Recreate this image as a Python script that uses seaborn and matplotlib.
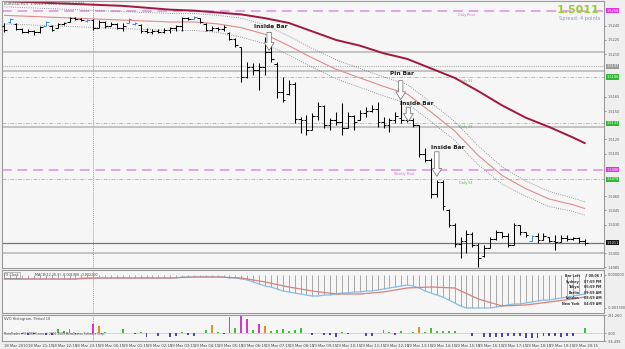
import matplotlib
matplotlib.use("Agg")
import matplotlib.pyplot as plt
import matplotlib.transforms as mtransforms
import numpy as np
import seaborn as sns

# ------------------------- DATI -------------------------
# EURUSD M15, bars from 18 Mar 20:15 to 19 Mar 20:45
bar_open = [
    1.5240, 1.5244, 1.5242, 1.5237, 1.5233, 1.5235, 1.5233, 1.5240, 1.5240, 1.5238,
    1.5242, 1.5244, 1.5248, 1.5247, 1.5245, 1.5246, 1.5238, 1.5244, 1.5240, 1.5242,
    1.5238, 1.5243, 1.5242, 1.5241, 1.5234, 1.5233, 1.5235, 1.5233, 1.5236, 1.5238,
    1.5240, 1.5248, 1.5247, 1.5248, 1.5242, 1.5236, 1.5238, 1.5237, 1.5232, 1.5226,
    1.5218, 1.5186, 1.5196, 1.5193, 1.5196, 1.5212, 1.5200, 1.5170, 1.5168, 1.5178,
    1.5142, 1.5140, 1.5130, 1.5145, 1.5155, 1.5135, 1.5140, 1.5138, 1.5132, 1.5145,
    1.5140, 1.5148, 1.5150, 1.5152, 1.5138, 1.5135, 1.5140, 1.5143, 1.5141, 1.5140,
    1.5135, 1.5105, 1.5098, 1.5062, 1.5075, 1.5045, 1.5030, 1.5010, 1.5013, 1.5020,
    1.5008, 1.4997, 1.5005, 1.5015, 1.5022, 1.5018, 1.5008, 1.5030, 1.5022, 1.5013,
    1.5018, 1.5014, 1.5017, 1.5013, 1.5012, 1.5016, 1.5015, 1.5016, 1.5013]
bar_high = [
    1.5243, 1.5248, 1.5243, 1.5238, 1.5237, 1.5236, 1.5240, 1.5245, 1.5241, 1.5243,
    1.5244, 1.5249, 1.5249, 1.5248, 1.5247, 1.5247, 1.5246, 1.5245, 1.5244, 1.5243,
    1.5243, 1.5248, 1.5244, 1.5242, 1.5238, 1.5237, 1.5237, 1.5238, 1.5239, 1.5241,
    1.5249, 1.5249, 1.5250, 1.5248, 1.5243, 1.5240, 1.5239, 1.5241, 1.5233, 1.5227,
    1.5218, 1.5202, 1.5201, 1.5201, 1.5228, 1.5220, 1.5202, 1.5186, 1.5183, 1.5181,
    1.5144, 1.5146, 1.5148, 1.5159, 1.5156, 1.5143, 1.5149, 1.5158, 1.5149, 1.5146,
    1.5151, 1.5154, 1.5156, 1.5159, 1.5144, 1.5143, 1.5149, 1.5162, 1.5148, 1.5143,
    1.5135, 1.5111, 1.5100, 1.5077, 1.5077, 1.5047, 1.5032, 1.5017, 1.5024, 1.5022,
    1.5011, 1.5008, 1.5017, 1.5024, 1.5022, 1.5021, 1.5032, 1.5030, 1.5022, 1.5019,
    1.5021, 1.5021, 1.5017, 1.5019, 1.5019, 1.5019, 1.5017, 1.5017, 1.5015]
bar_low = [
    1.5233, 1.5243, 1.5236, 1.5232, 1.5232, 1.5230, 1.5232, 1.5240, 1.5234, 1.5238,
    1.5241, 1.5244, 1.5246, 1.5245, 1.5244, 1.5236, 1.5238, 1.5238, 1.5240, 1.5237,
    1.5235, 1.5243, 1.5241, 1.5232, 1.5232, 1.5231, 1.5232, 1.5232, 1.5232, 1.5235,
    1.5235, 1.5246, 1.5247, 1.5243, 1.5235, 1.5235, 1.5235, 1.5235, 1.5225, 1.5218,
    1.5181, 1.5185, 1.5188, 1.5172, 1.5188, 1.5202, 1.5164, 1.5159, 1.5167, 1.5137,
    1.5127, 1.5125, 1.5130, 1.5140, 1.5132, 1.5130, 1.5135, 1.5125, 1.5132, 1.5130,
    1.5140, 1.5144, 1.5149, 1.5133, 1.5132, 1.5128, 1.5137, 1.5137, 1.5138, 1.5133,
    1.5101, 1.5096, 1.5058, 1.5059, 1.5045, 1.5027, 1.5006, 1.4995, 1.5000, 1.5006,
    1.4985, 1.4996, 1.5005, 1.5014, 1.5016, 1.5006, 1.5008, 1.5019, 1.5017, 1.5013,
    1.5011, 1.5014, 1.5012, 1.5003, 1.5012, 1.5013, 1.5014, 1.5011, 1.5008]
bar_close = [
    1.5236, 1.5247, 1.5237, 1.5233, 1.5235, 1.5233, 1.5239, 1.5244, 1.5236, 1.5242,
    1.5243, 1.5248, 1.5247, 1.5246, 1.5246, 1.5238, 1.5244, 1.5240, 1.5242, 1.5238,
    1.5240, 1.5247, 1.5243, 1.5234, 1.5233, 1.5235, 1.5233, 1.5236, 1.5238, 1.5240,
    1.5248, 1.5247, 1.5249, 1.5244, 1.5236, 1.5238, 1.5237, 1.5239, 1.5226, 1.5220,
    1.5186, 1.5196, 1.5193, 1.5196, 1.5212, 1.5205, 1.5170, 1.5162, 1.5178, 1.5142,
    1.5140, 1.5130, 1.5145, 1.5155, 1.5135, 1.5140, 1.5138, 1.5132, 1.5145, 1.5138,
    1.5148, 1.5150, 1.5152, 1.5138, 1.5135, 1.5140, 1.5145, 1.5141, 1.5140, 1.5135,
    1.5105, 1.5098, 1.5062, 1.5075, 1.5050, 1.5030, 1.5010, 1.5013, 1.5020, 1.5008,
    1.4995, 1.5005, 1.5015, 1.5022, 1.5018, 1.5008, 1.5030, 1.5022, 1.5019, 1.5018,
    1.5014, 1.5018, 1.5013, 1.5012, 1.5016, 1.5015, 1.5016, 1.5013, 1.5011]
blue_bars = [1, 7, 14, 21, 22, 32, 89]

# medie mobili, lette ogni 4 barre (una all'ora)
ma_idx = [0, 4, 8, 12, 16, 20, 24, 28, 32, 36, 40, 44, 48, 52, 56, 60, 64, 68, 72, 76,
          80, 84, 88, 92, 96, 98]
ma_slow = [1.5266, 1.5265, 1.5264, 1.5263, 1.5262, 1.5261, 1.5259, 1.5257, 1.5256, 1.5254,
           1.5252, 1.5248, 1.5243, 1.5234, 1.5225, 1.5219, 1.5211, 1.5205, 1.5195, 1.5185,
           1.5171, 1.5156, 1.5143, 1.5133, 1.5122, 1.5116]
env_mid = [1.5251, 1.5250, 1.5249, 1.5248, 1.5247, 1.5246, 1.5245, 1.5244, 1.5244, 1.5242,
           1.5238, 1.5231, 1.5219, 1.5206, 1.5194, 1.5185, 1.5176, 1.5168, 1.5149, 1.5129,
           1.5103, 1.5082, 1.5068, 1.5057, 1.5051, 1.5047]
env_up = [1.5260, 1.5259, 1.5258, 1.5257, 1.5256, 1.5255, 1.5254, 1.5253, 1.5253, 1.5251,
          1.5248, 1.5241, 1.5229, 1.5216, 1.5204, 1.5195, 1.5186, 1.5178, 1.5159, 1.5139,
          1.5113, 1.5091, 1.5076, 1.5065, 1.5058, 1.5054]
env_low = [1.5242, 1.5241, 1.5240, 1.5239, 1.5238, 1.5237, 1.5236, 1.5235, 1.5235, 1.5233,
           1.5228, 1.5221, 1.5209, 1.5196, 1.5184, 1.5175, 1.5166, 1.5158, 1.5139, 1.5119,
           1.5093, 1.5073, 1.5060, 1.5049, 1.5044, 1.5040]

# livelli orizzontali
pivot_names = ["Daily Pivot", "Weekly Pivot"]
pivot_prices = [1.5256, 1.5088]
support_names = ["Daily S1", "Daily S2", "Daily S3"]
support_prices = [1.5186, 1.5137, 1.5078]
gray_levels = [1.5212, 1.5192, 1.5133, 1.5000]
dotted_level = 1.5197
bid = 1.5011

# pattern segnalati
pattern_names = ["Inside Bar", "Pin Bar", "Inside Bar", "Inside Bar"]
pattern_bar = [44.7, 66.9, 68.2, 73.0]

# MACD (pips) per barra, signal ogni ora
macd_main = [
    -4, -4, -4, -4, -4, -4, -4, -4, -4, -4,
    -4, -4, -4, -3, -3, -3, -3, -3, -3, -3,
    -3, -3, -3, -3, -3, -3, -3, -3, -3, -3,
    -2, -2, -2, -2, -2, -2, -2, -2, -3, -3,
    -4, -5, -7, -9, -11, -12, -14, -16, -17, -18,
    -19, -20, -21, -21, -20, -20, -19, -18, -18, -17,
    -17, -16, -16, -15, -14, -13, -12, -11, -10, -11,
    -13, -16, -18, -20, -22, -25, -28, -31, -33, -33,
    -33, -33, -33, -32, -31, -30, -29, -29, -28, -27,
    -26, -25, -25, -24, -23, -22, -21, -20, -19]
macd_signal = [-4, -4, -4, -4, -3, -3, -3, -3, -2, -2, -3, -7, -12, -16, -19, -19, -17, -13,
               -12, -13, -24, -31, -30, -27, -24, -22]

# VVO histogram
vvo = [
    0, 0, 0, -15, -20, -10, 0, -25, -20, 55,
    25, 55, -15, 0, 0, 115, 88, 18, 0, 0,
    48, 0, -15, 15, -45, 0, -35, 0, -50, -30,
    15, -25, -35, 0, 38, 100, 18, -8, 195, 62,
    214, 178, 37, 112, 85, 30, 37, 48, 26, 37,
    60, 0, -25, 0, -20, -20, -45, 10, -15, 0,
    0, -35, -30, 0, 37, 15, -25, 20, 0, 15,
    80, 15, 60, 28, 25, 25, 25, 0, 0, -35,
    0, -48, -48, -48, -48, -40, -38, -30, -55, -55,
    -55, -30, -40, -40, -48, -40, -30, 0, 65]

time_labels = ["18 Mar 2010", "18 Mar 21:15", "18 Mar 22:15", "18 Mar 23:15",
               "19 Mar 00:15", "19 Mar 01:15", "19 Mar 02:15", "19 Mar 03:15",
               "19 Mar 04:15", "19 Mar 05:15", "19 Mar 06:15", "19 Mar 07:15",
               "19 Mar 08:15", "19 Mar 09:15", "19 Mar 10:15", "19 Mar 11:15",
               "19 Mar 12:15", "19 Mar 13:15", "19 Mar 14:15", "19 Mar 15:15",
               "19 Mar 16:15", "19 Mar 17:15", "19 Mar 18:15", "19 Mar 19:15",
               "19 Mar 20:15"]

clock_names = ["Bar Left", "Sydney", "Tokyo", "Berlin", "London", "New York"]
clock_times = ["[ 00:06 ]", "07:59 PM", "05:59 PM", "09:59 AM", "08:59 AM", "04:59 AM"]

# ------------------------- GRAFICO -------------------------
sns.set_theme(style="white")
plt.rcParams['font.family'] = ['DejaVu Sans']

BG = "#f6f6f6"
EDGE = "#9c9c9c"
idx = np.arange(len(bar_open))

fig = plt.figure(figsize=(6.25, 3.49), dpi=100, facecolor="#efefef")
ax = fig.add_axes([0.0032, 0.232, 0.963, 0.765], facecolor=BG)
ax_macd = fig.add_axes([0.0032, 0.1032, 0.963, 0.1232], facecolor=BG, sharex=ax)
ax_vvo = fig.add_axes([0.0032, 0.0229, 0.963, 0.0745], facecolor=BG, sharex=ax)

for a in (ax, ax_macd, ax_vvo):
    for s in a.spines.values():
        s.set_color(EDGE)
        s.set_linewidth(0.8)
    a.axvline(15, color="#a0a0a0", lw=0.7, ls=(0, (1, 1)), zorder=0)
    a.yaxis.tick_right()
    a.tick_params(axis="y", labelsize=2.5, length=1.5, pad=1, colors="#555555", width=0.4)
    a.tick_params(axis="x", length=0, labelbottom=False)

# livelli
for p in gray_levels:
    ax.axhline(p, color="#b5b5b5", lw=1.1, zorder=1)
ax.axhline(dotted_level, color="#b0b0b0", lw=0.8, ls=(0, (1, 1)), zorder=1)
ax.axhline(bid, color="#777777", lw=0.9, zorder=1)
for p in pivot_prices:
    ax.axhline(p, color="#e2a6e2", lw=1.4, ls=(0, (5, 3)), zorder=1)
for p in support_prices:
    ax.axhline(p, color="#98d498", lw=0.7, ls=(0, (4, 1.5, 1, 1.5)), zorder=1)

ax.text(76.6, pivot_prices[0] - 0.0002, pivot_names[0], fontsize=2.3, color="#d070d0", va="top")
ax.text(65.8, pivot_prices[1] - 0.0002, pivot_names[1], fontsize=2.3, color="#d070d0", va="top")
for name, p in zip(support_names, support_prices):
    ax.text(76.8, p - 0.0002, name, fontsize=2.3, color="#60b060", va="top")

# medie mobili
sns.lineplot(x=ma_idx, y=env_up, ax=ax, color="#777777", lw=0.6, linestyle=":")
sns.lineplot(x=ma_idx, y=env_low, ax=ax, color="#777777", lw=0.6, linestyle=":")
sns.lineplot(x=ma_idx, y=env_mid, ax=ax, color="#e08c8c", lw=0.8)
sns.lineplot(x=ma_idx, y=ma_slow, ax=ax, color="#a3173f", lw=1.4)

# barre OHLC
bar_colors = ["#3f90d8" if i in blue_bars else "black" for i in idx]
ax.vlines(idx, bar_low, bar_high, colors=bar_colors, lw=0.75, zorder=3)
ax.hlines(bar_open, idx - 0.45, idx, colors=bar_colors, lw=0.75, zorder=3)
ax.hlines(bar_close, idx, idx + 0.45, colors=bar_colors, lw=0.75, zorder=3)

# pattern: frecce e etichette
arrow_top = [1.5233, 1.5182, 1.5154, 1.5107]
arrow_tip = [1.5214, 1.5162, 1.5139, 1.5081]
label_pos = [(45.0, 1.5239), (67.2, 1.5190), (69.7, 1.5158), (74.8, 1.5111)]
for name, xb, y0, y1, (lx, ly) in zip(pattern_names, pattern_bar, arrow_top, arrow_tip, label_pos):
    ax.annotate("", xy=(xb, y1), xytext=(xb, y0),
                arrowprops=dict(arrowstyle="simple,head_length=0.8,head_width=1.0,tail_width=0.45",
                                fc="white", ec="#808080", lw=0.6, mutation_scale=7,
                                shrinkA=0, shrinkB=0), zorder=4)
    ax.text(lx, ly, name, fontsize=4.2, fontweight="bold", color="#222222", ha="center", va="center", zorder=5)

ax.set_xlim(-0.4, 101.2)
ax.set_ylim(1.49842, 1.52661)

box_prices = pivot_prices + support_prices + [dotted_level, bid]
price_ticks = [round(1.4985 + 0.0015 * k, 4) for k in range(19)]
price_ticks = [t for t in price_ticks if min(abs(t - b) for b in box_prices) > 0.0008]
ax.set_yticks(price_ticks)
ax.set_yticklabels([f"{t:.4f}" for t in price_ticks])

tr = mtransforms.blended_transform_factory(ax.transAxes, ax.transData)
def price_box(p, fc, tc="white"):
    ax.text(1.004, p, f"{p:.4f}", transform=tr, fontsize=2.5, color=tc, va="center", ha="left",
            bbox=dict(boxstyle="square,pad=0.2", fc=fc, ec="none"), clip_on=False, zorder=6)
price_box(pivot_prices[0], "#dd33dd")
price_box(pivot_prices[1], "#dd33dd")
for p in support_prices:
    price_box(p, "#33b833")
price_box(dotted_level, "#9a9a9a")
price_box(bid, "#111111")

ax.text(0.003, 0.995, "EURUSD,M15  1.5013 1.5015 1.5008 1.5011", transform=ax.transAxes,
        fontsize=2.6, color="#555555", va="top", ha="left")
ax.text(0.9934, 0.966, "1.5011", transform=ax.transAxes, fontsize=8, fontweight="bold",
        color="#9acd32", ha="right", va="center")
ax.text(0.9934, 0.936, "Spread: 4 points", transform=ax.transAxes, fontsize=3.6,
        color="#7f9ec0", ha="right", va="center")

# MACD
ax_macd.vlines(idx, 0, macd_main, colors="#a8a8a8", lw=0.7)
sns.lineplot(x=idx, y=macd_main, ax=ax_macd, color="#86bfe6", lw=0.9)
sns.lineplot(x=ma_idx, y=macd_signal, ax=ax_macd, color="#d98080", lw=0.9)
ax_macd.set_ylim(-38, 5)
ax_macd.set_yticks([0, -33])
ax_macd.set_yticklabels(["0.000000", "-0.003300"])
ax_macd.text(0.004, 0.93, "FX Clock", transform=ax_macd.transAxes, fontsize=2.4, color="#444444",
             va="top", bbox=dict(boxstyle="square,pad=0.2", fc="none", ec="#888888", lw=0.4))
ax_macd.text(0.055, 0.93, "MACD(12,26,9) -0.001900 -0.002200", transform=ax_macd.transAxes,
             fontsize=2.4, color="#444444", va="top")
for k, (nm, tm) in enumerate(zip(clock_names, clock_times)):
    yy = 0.86 - k * 0.13
    ax_macd.text(0.960, yy, nm, transform=ax_macd.transAxes, fontsize=2.4, fontweight="bold",
                 color="#333333", ha="right", va="center")
    ax_macd.text(0.996, yy, tm, transform=ax_macd.transAxes, fontsize=2.4, fontweight="bold",
                 color="#333333", ha="right", va="center")

# VVO
vvo_colors = []
for v in vvo:
    if v >= 105:
        vvo_colors.append("#c83ccf")
    elif v >= 75:
        vvo_colors.append("#e0902a")
    elif v > 0:
        vvo_colors.append("#3cbf3c")
    else:
        vvo_colors.append("#5a3fb0")
ax_vvo.bar(idx, vvo, width=0.32, color=vvo_colors, lw=0)
ax_vvo.axhline(0, color="#c8c8c8", lw=0.5, zorder=0)
ax_vvo.set_ylim(-96.495, 221.26)
ax_vvo.set_yticks([221.26, 0, -96.495])
ax_vvo.set_yticklabels(["221.260", "0.00", "-96.495"])
ax_vvo.text(0.004, 0.93, "VVO Histogram, Period 10", transform=ax_vvo.transAxes, fontsize=2.5,
            color="#444444", va="top")
ax_vvo.text(0.004, 0.26, "MetaTrader - FX FOREX.com, \u00a9 2001-2009 MetaQuotes Software Corp.",
            transform=ax_vvo.transAxes, fontsize=2.1, color="#444444", va="center")

ax_vvo.set_xticks(list(range(0, 99, 4)))
ax_vvo.set_xticklabels(time_labels)
ax_vvo.tick_params(axis="x", labelbottom=True, labelsize=2.7, length=1.5, pad=1, colors="#444444", width=0.4)
for lbl in ax_vvo.get_xticklabels():
    lbl.set_ha("left")

fig.savefig("out.png", dpi=100, facecolor=fig.get_facecolor())
